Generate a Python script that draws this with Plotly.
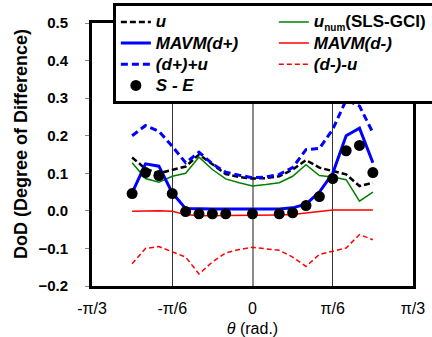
import numpy as np
import plotly.graph_objects as go

angles_deg = [-45, -40, -35, -30, -25, -20, -15, -10, -5, 0, 5, 10, 15, 20, 25, 30, 35, 40, 45]
u_vals = [0.142, 0.112, 0.100, 0.108, 0.118, 0.150, 0.125, 0.098, 0.090, 0.086, 0.087, 0.092, 0.110, 0.135, 0.115, 0.105, 0.097, 0.066, 0.075]
unum_vals = [0.128, 0.086, 0.076, 0.092, 0.100, 0.143, 0.110, 0.085, 0.075, 0.066, 0.070, 0.075, 0.092, 0.123, 0.094, 0.090, 0.083, 0.026, 0.050]
dplus_vals = [0.048, 0.125, 0.119, 0.048, 0.006, 0.005, 0.005, 0.005, 0.005, 0.005, 0.005, 0.005, 0.008, 0.018, 0.050, 0.100, 0.200, 0.220, 0.128]
dminus_vals = [-0.001, 0.000, 0.000, -0.001, -0.010, -0.013, -0.013, -0.012, -0.012, -0.011, -0.011, -0.011, -0.010, -0.006, 0.000, 0.002, 0.002, 0.002, 0.002]
dplus_u_vals = [0.200, 0.227, 0.212, 0.172, 0.128, 0.156, 0.125, 0.103, 0.095, 0.088, 0.090, 0.097, 0.115, 0.163, 0.166, 0.217, 0.295, 0.279, 0.208]
dminus_u_vals = [-0.141, -0.100, -0.095, -0.109, -0.123, -0.168, -0.136, -0.112, -0.103, -0.097, -0.101, -0.105, -0.123, -0.148, -0.116, -0.108, -0.099, -0.063, -0.077]

se_deg = [-45, -40, -35, -30, -25, -20, -15, -10, 0, 10, 15, 20, 25, 30, 35, 40, 45]
se_vals = [0.046, 0.102, 0.094, 0.046, -0.002, -0.008, -0.008, -0.008, -0.008, -0.008, -0.005, 0.014, 0.038, 0.086, 0.160, 0.174, 0.102]

tick_vals = [-np.pi / 3, -np.pi / 6, 0, np.pi / 6, np.pi / 3]
tick_text = ["-π/3", "-π/6", "0", "π/6", "π/3"]

x = np.radians(angles_deg)
xse = np.radians(se_deg)


def lname(s):
    return '<span style="font-size:17px"><b>' + s + '</b></span>'


fig = go.Figure()
fig.add_trace(go.Scatter(x=x, y=u_vals, mode="lines", name=lname("<i>u</i>"),
                         line=dict(color="black", width=2.5, dash="6px,3px")))
fig.add_trace(go.Scatter(x=x, y=unum_vals, mode="lines",
                         name=lname('<i>u</i><sub><span style="font-size:10px">num</span></sub>(SLS-GCI)'),
                         line=dict(color="#008000", width=1.5)))
fig.add_trace(go.Scatter(x=x, y=dplus_vals, mode="lines", name=lname("<i>MAVM(d+)</i>"),
                         line=dict(color="#0000ff", width=3)))
fig.add_trace(go.Scatter(x=x, y=dminus_vals, mode="lines", name=lname("<i>MAVM(d-)</i>"),
                         line=dict(color="#ff0000", width=1.5)))
fig.add_trace(go.Scatter(x=x, y=dplus_u_vals, mode="lines", name=lname("<i>(d+)+u</i>"),
                         line=dict(color="#0000ff", width=3, dash="7px,4px")))
fig.add_trace(go.Scatter(x=x, y=dminus_u_vals, mode="lines", name=lname("<i>(d-)-u</i>"),
                         line=dict(color="#ff0000", width=1.5, dash="5px,3px")))
fig.add_trace(go.Scatter(x=xse, y=se_vals, mode="markers", name=lname("<i>S - E</i>"),
                         marker=dict(color="black", size=11)))

fig.update_layout(
    width=432, height=337,
    margin=dict(l=92, r=19, t=23, b=51, autoexpand=False),
    paper_bgcolor="white", plot_bgcolor="white",
    font=dict(family="Arial, Liberation Sans, sans-serif", color="black", size=14),
    showlegend=True,
    legend=dict(
        orientation="h", entrywidth=113, x=0.065, xanchor="left", y=1.075, yanchor="top",
        bgcolor="white", bordercolor="black", borderwidth=3,
        font=dict(size=14), tracegroupgap=0, itemwidth=30,
    ),
    xaxis=dict(
        range=[-np.pi / 3, np.pi / 3], tickvals=tick_vals, ticktext=tick_text,
        showline=True, linecolor="black", linewidth=3, mirror=True,
        showgrid=True, gridcolor="#333333", gridwidth=1,
        zeroline=True, zerolinecolor="#8c8c8c", zerolinewidth=1.5,
        ticks="", tickfont=dict(size=16), ticklabelstandoff=6,
        title=dict(text="<i>θ</i> (rad.)", font=dict(size=16), standoff=9),
    ),
    yaxis=dict(
        range=[-0.2, 0.5], dtick=0.1, tickformat=".1f",
        showline=True, linecolor="black", linewidth=3, mirror=True,
        showgrid=False, zeroline=False,
        ticks="outside", ticklen=4, tickcolor="#888888",
        tickfont=dict(size=15, weight="bold"), ticklabelstandoff=14,
    ),
    annotations=[dict(
        text="<b>DoD (Degree of Difference)</b>", textangle=-90,
        xref="paper", yref="paper", x=-0.221, y=0.54,
        xanchor="center", yanchor="middle", showarrow=False,
        font=dict(size=18),
    )],
)

fig.write_html("out.html", config={"displayModeBar": False},
               post_script="document.body.style.margin='0';document.body.style.overflow='hidden';")
